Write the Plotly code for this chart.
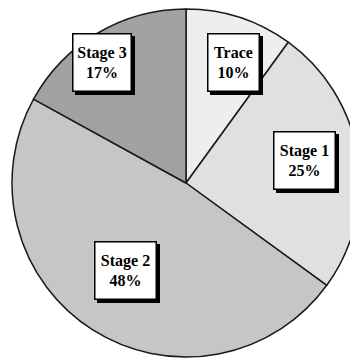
import plotly.graph_objects as go

labels = ["Trace", "Stage 1", "Stage 2", "Stage 3"]
values = [10, 25, 48, 17]
colors = ["#eeeeee", "#e0e0e0", "#c6c6c6", "#a2a2a2"]
# label box centres and inner widths (pixels)
label_px = [(233, 62), (304, 160), (125, 270), (102, 62)]
box_w = [44, 54, 54, 51]

W, H = 360, 358
ML, MT, MB, MR = 12, 9, 1, 0
PW, PH = W - ML - MR, H - MT - MB

fig = go.Figure(go.Pie(
    labels=labels, values=values, sort=False, direction="clockwise", rotation=0,
    marker=dict(colors=colors, line=dict(color="#1a1a1a", width=1.5)),
    textinfo="none", hoverinfo="skip", showlegend=False,
))

font = dict(family="Liberation Serif", size=16, color="black")
anns = []
for lab, val, (px, py), bw in zip(labels, values, label_px, box_w):
    x = (px - ML) / PW
    y = 1 - (py - MT) / PH
    txt = f"<b>{lab}</b><br><b>{val}%</b>"
    common = dict(x=x, y=y, xref="paper", yref="paper", showarrow=False,
                  xanchor="center", yanchor="middle", width=bw, height=50,
                  borderpad=3, borderwidth=1.5, align="center")
    anns.append(dict(common, text="\u00a0", font=font, bgcolor="black",
                     bordercolor="black", xshift=3, yshift=-3))
    anns.append(dict(common, text=txt, font=font, bgcolor="white", bordercolor="black"))

fig.update_layout(
    width=W, height=H, margin=dict(l=ML, r=MR, t=MT, b=MB),
    paper_bgcolor="white", plot_bgcolor="white", annotations=anns,
)

fig.write_html("out.html", post_script="document.body.style.overflow='hidden';document.documentElement.style.overflow='hidden';")
